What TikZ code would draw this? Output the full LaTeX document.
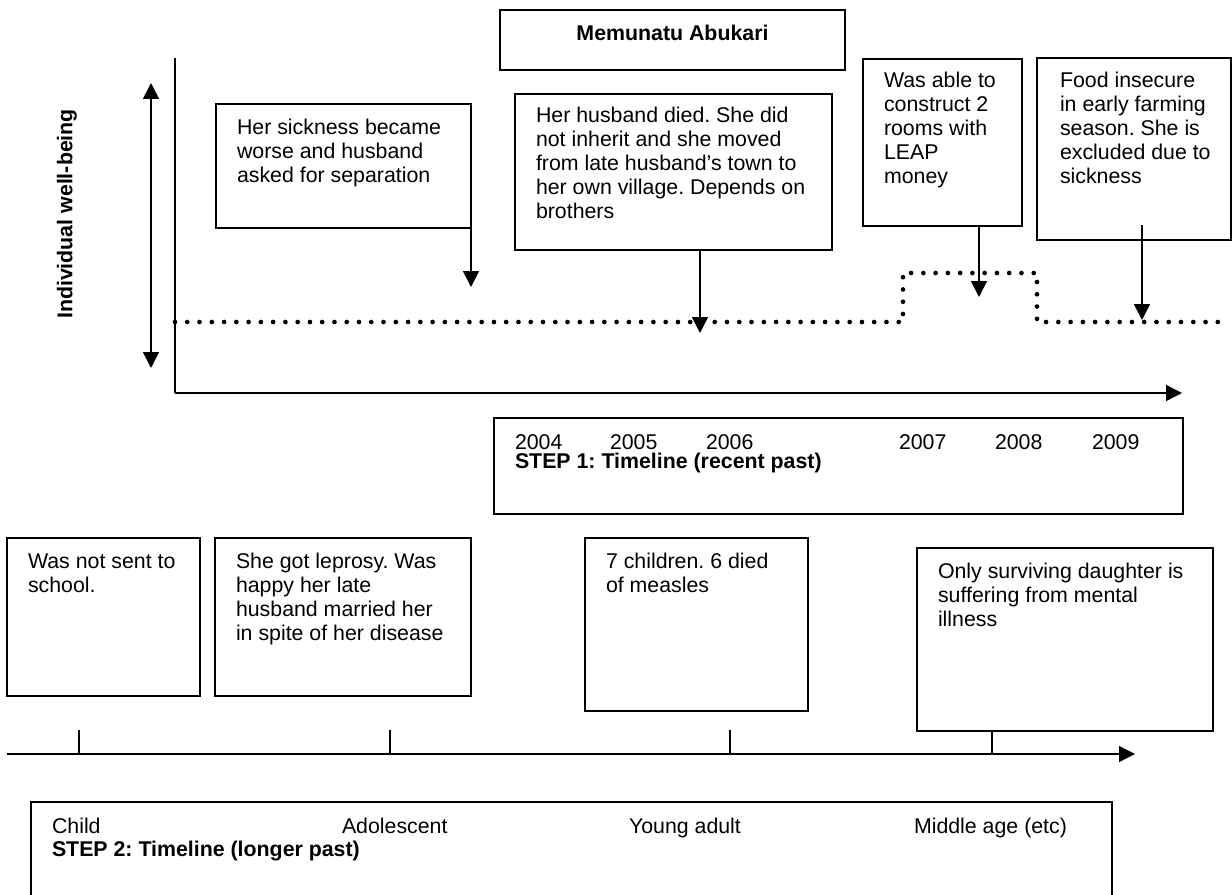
\documentclass[tikz,border=0pt]{standalone}
\usepackage{fontspec}
\setmainfont{Liberation Sans}
\usetikzlibrary{arrows.meta}
\frenchspacing
\begin{document}
\begin{tikzpicture}[x=0.75pt,y=-0.75pt,
  every node/.style={inner sep=0pt, outer sep=0pt},
  txt/.style={font=\fontsize{16}{18}\selectfont, anchor=base west},
  boldtxt/.style={font=\fontsize{16}{18}\selectfont\bfseries},
  evbox/.style={draw=black, line width=1pt, anchor=north west},
  arr/.style={line width=1.25pt, -{Triangle[length=12pt,width=12pt]}},
  twoarr/.style={line width=1.25pt, {Triangle[length=12pt,width=12pt]}-{Triangle[length=12pt,width=12pt]}},
  axisline/.style={line width=1.1pt},
  wellbeing/.style={line width=3.5pt, line cap=round, dash pattern=on 0pt off 9.2pt},
]
\useasboundingbox (0,0) rectangle (1232,895);
\clip (0,0) rectangle (1232,895);

% ---------- title ----------
\node[evbox, minimum width=258.75pt, minimum height=45pt] (title) at (500,10) {};
\node[boldtxt, anchor=base] (titletext) at (672.5,41) {Memunatu Abukari};

% ---------- recent past: axes ----------
\coordinate (ytop) at (175,58);
\coordinate (origin) at (175,393);
\coordinate (xend) at (1182,393);
\draw[axisline] (ytop) -- (origin);
\draw[arr, line width=1.1pt] (origin) -- (xend);

\coordinate (wbtop) at (151,83);
\coordinate (wbbot) at (151,368);
\draw[twoarr] (wbtop) -- (wbbot);
\node[boldtxt, rotate=90] (wblabel) at (67,214) {Individual well-being};

% well-being level
\coordinate (w0) at (175,322);
\coordinate (w1) at (903,322);
\coordinate (w2) at (903,273);
\coordinate (w3) at (1037,273);
\coordinate (w4) at (1037,322);
\coordinate (w5) at (1224,322);
\draw[wellbeing] (w0) -- (w1) -- (w2) -- (w3) -- (w4) -- (w5);

% ---------- recent past: events ----------
\node[evbox, minimum width=191.25pt, minimum height=93pt] (boxA) at (216,104) {};
\node[txt] (textA) at (237,135) {\parbox[t]{300pt}{Her sickness became\\worse and husband\\asked for separation}};
\coordinate (tipA) at (471,287);
\draw[arr] (boxA.south east) -- (tipA);

\node[evbox, minimum width=237.75pt, minimum height=117pt] (boxB) at (515,94) {};
\node[txt] (textB) at (536,123) {\parbox[t]{300pt}{Her husband died. She did\\not inherit and she moved\\from late husband’s town to\\her own village. Depends on\\brothers}};
\coordinate (tipB) at (700,333);
\draw[arr] (tipB |- boxB.south) -- (tipB);

\node[evbox, minimum width=119.25pt, minimum height=125.25pt] (boxC) at (863,59) {};
\node[txt] (textC) at (884,88) {\parbox[t]{300pt}{Was able to\\construct 2\\rooms with\\LEAP\\money}};
\coordinate (tipC) at (979,297);
\draw[arr] (tipC |- boxC.south) -- (tipC);

\node[evbox, minimum width=145.5pt, minimum height=136.5pt] (boxD) at (1037,58) {};
\node[txt] (textD) at (1060,88) {\parbox[t]{300pt}{Food insecure\\in early farming\\season. She is\\excluded due to\\sickness}};
\coordinate (startD) at (1142,225);
\coordinate (tipD) at (1142,320);
\draw[arr] (startD) -- (tipD);

% ---------- step 1 caption ----------
\node[evbox, minimum width=516.75pt, minimum height=72pt] (step1) at (494,418) {};
\node[txt] (y2004) at (515,449) {2004};
\node[txt] (y2005) at (610,449) {2005};
\node[txt] (y2006) at (706,449) {2006};
\node[txt] (y2007) at (899,449) {2007};
\node[txt] (y2008) at (995,449) {2008};
\node[txt] (y2009) at (1092,449) {2009};
\node[txt, boldtxt, anchor=base west] (step1text) at (515,468) {STEP 1: Timeline (recent past)};

% ---------- longer past: events ----------
\node[evbox, minimum width=144.75pt, minimum height=118.5pt] (boxE) at (7,538) {};
\node[txt] (textE) at (28,568) {\parbox[t]{300pt}{Was not sent to\\school.}};

\node[evbox, minimum width=192pt, minimum height=118.5pt] (boxF) at (215,538) {};
\node[txt] (textF) at (236,568) {\parbox[t]{300pt}{She got leprosy. Was\\happy her late\\husband married her\\in spite of her disease}};

\node[evbox, minimum width=167.25pt, minimum height=129.75pt] (boxG) at (585,538) {};
\node[txt] (textG) at (606,568) {\parbox[t]{300pt}{7 children. 6 died\\of measles}};

\node[evbox, minimum width=222pt, minimum height=137.25pt] (boxH) at (917,548) {};
\node[txt] (textH) at (938,578) {\parbox[t]{300pt}{Only surviving daughter is\\suffering from mental\\illness}};

% ---------- longer past: axis ----------
\coordinate (lstart) at (7,754);
\coordinate (lend) at (1135,754);
\draw[arr, line width=1pt] (lstart) -- (lend);
\coordinate (tick1) at (79,754);
\coordinate (tick2) at (390,754);
\coordinate (tick3) at (730,754);
\coordinate (tick4) at (992,754);
\draw[line width=1pt] (tick1) -- ++(0,-24);
\draw[line width=1pt] (tick2) -- ++(0,-24);
\draw[line width=1pt] (tick3) -- ++(0,-24);
\draw[line width=1pt] (tick4) -- (tick4 |- boxH.south);

% ---------- step 2 caption ----------
\node[evbox, minimum width=810.75pt, minimum height=73.5pt] (step2) at (31,802) {};
\node[txt] (child) at (52,833) {Child};
\node[txt] (adolescent) at (342,833) {Adolescent};
\node[txt] (youngadult) at (629,833) {Young adult};
\node[txt] (middleage) at (914,833) {Middle age (etc)};
\node[txt, boldtxt, anchor=base west] (step2text) at (52,856) {STEP 2: Timeline (longer past)};
\end{tikzpicture}
\end{document}
